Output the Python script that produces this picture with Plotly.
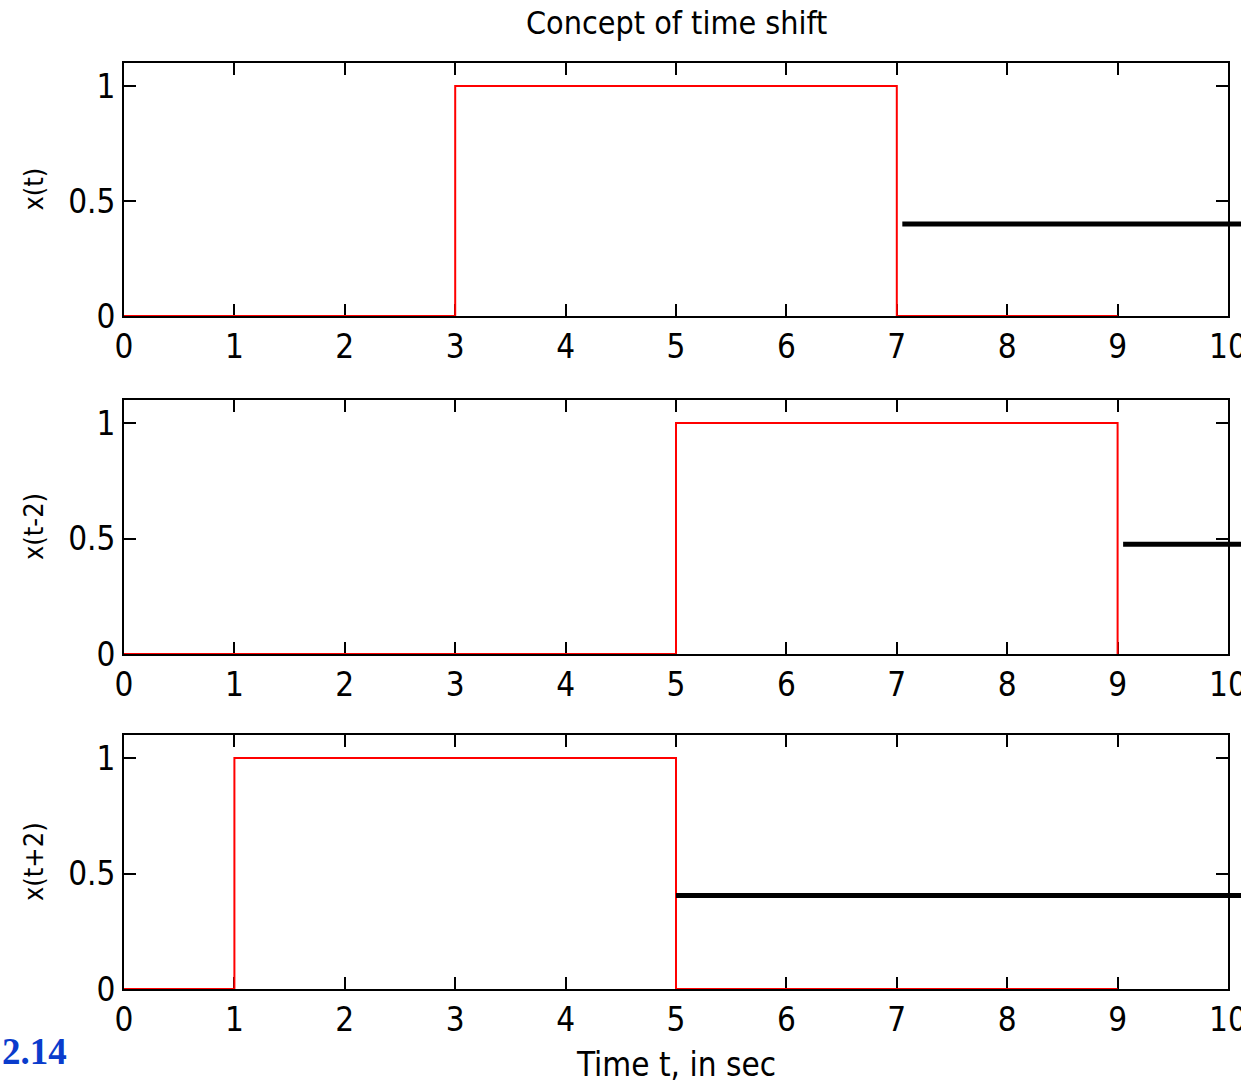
import plotly.graph_objects as go
from plotly.subplots import make_subplots

# ---- data ----
t_x = [0, 3, 3, 7, 7, 9]
v_x = [0, 0, 1, 1, 0, 0]
t_xm2 = [0, 5, 5, 9, 9]
v_xm2 = [0, 0, 1, 1, 0]
t_xp2 = [0, 1, 1, 5, 5, 9]
v_xp2 = [0, 0, 1, 1, 0, 0]
ylabels = ["x(t)", "x(t-2)", "x(t+2)"]
xticks = list(range(0, 11))
yticks = [0, 0.5, 1]
# black marker lines (start time, level) per panel
mark_start = [7.05, 9.05, 5.0]
mark_level = [0.40, 0.475, 0.405]
x_range = [0, 10]
y_range = [0, 1.1]

W, H = 1241, 1084
FONT = "DejaVu Sans Condensed, Liberation Sans Narrow, Arial Narrow, sans-serif"

xd = [124 / W, 1228 / W]
ydoms = [
    [1 - 316 / H, 1 - 63 / H],
    [1 - 654 / H, 1 - 400 / H],
    [1 - 989 / H, 1 - 735 / H],
]

fig = make_subplots(rows=3, cols=1)
series = [(t_x, v_x), (t_xm2, v_xm2), (t_xp2, v_xp2)]
for i, (tt, vv) in enumerate(series):
    fig.add_trace(go.Scatter(x=tt, y=vv, mode="lines", cliponaxis=False,
                             line=dict(color="#ff0000", width=2),
                             showlegend=False, hoverinfo="skip"),
                  row=i + 1, col=1)

axcommon = dict(showline=True, linecolor="black", linewidth=2, mirror="ticks",
                ticks="inside", ticklen=12, tickwidth=2, tickcolor="black",
                showgrid=False, zeroline=False, automargin=False,
                layer="below traces", ticklabeloverflow="allow",
                tickfont=dict(family=FONT, size=33, color="black"))
for i in range(3):
    xa = "xaxis" if i == 0 else f"xaxis{i+1}"
    ya = "yaxis" if i == 0 else f"yaxis{i+1}"
    fig.layout[xa].update(domain=xd, range=x_range, tickvals=xticks,
                          ticktext=[str(v) for v in xticks], **axcommon)
    fig.layout[ya].update(domain=ydoms[i], range=y_range, tickvals=yticks,
                          ticktext=["0", "0.5", "1"], **axcommon)
    # black line extending past the axes (x in domain fraction of axis)
    xref = "x domain" if i == 0 else f"x{i+1} domain"
    yref = "y" if i == 0 else f"y{i+1}"
    fig.add_shape(type="line", xref=xref, yref=yref,
                  x0=(mark_start[i] - x_range[0]) / (x_range[1] - x_range[0]),
                  x1=1.02, y0=mark_level[i], y1=mark_level[i],
                  line=dict(color="black", width=5))
    # y-axis label
    yc = (ydoms[i][0] + ydoms[i][1]) / 2
    fig.add_annotation(text=ylabels[i], xref="paper", yref="paper",
                       x=33 / W, y=yc, showarrow=False, textangle=-90,
                       font=dict(family=FONT, size=27, color="black"),
                       xanchor="center", yanchor="middle")

fig.add_annotation(text="Concept of time shift", xref="paper", yref="paper",
                   x=(xd[0] + xd[1]) / 2, y=1 - 23 / H, showarrow=False,
                   font=dict(family=FONT, size=32, color="black"),
                   xanchor="center", yanchor="middle")
fig.add_annotation(text="Time t, in sec", xref="paper", yref="paper",
                   x=(xd[0] + xd[1]) / 2, y=1 - 1064 / H, showarrow=False,
                   font=dict(family=FONT, size=33, color="black"),
                   xanchor="center", yanchor="middle")
fig.add_annotation(text="<b>2.14</b>", xref="paper", yref="paper",
                   x=0, y=1 - 1051 / H, showarrow=False,
                   font=dict(family="Liberation Serif, Times New Roman, serif",
                             size=37, color="#0a3ccc"),
                   xanchor="left", yanchor="middle")

fig.update_layout(width=W, height=H, margin=dict(l=0, r=0, t=0, b=0),
                  paper_bgcolor="white", plot_bgcolor="white")
fig.write_html("out.html")
